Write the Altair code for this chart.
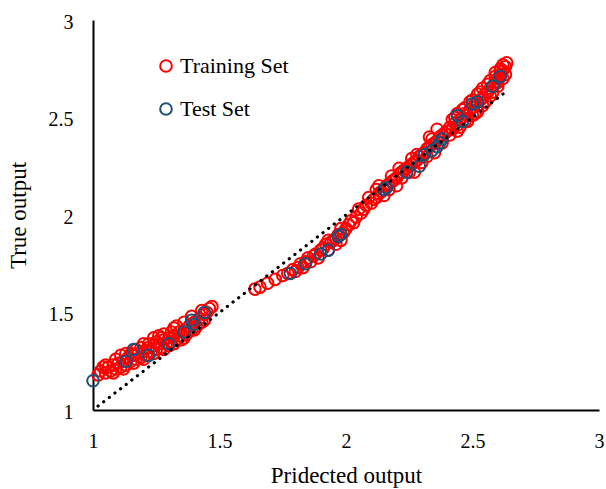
import altair as alt
import pandas as pd

train_x = [1.02, 1.03, 1.05, 1.06, 1.07, 1.08, 1.09, 1.10, 1.11, 1.12, 1.13, 1.14, 1.15, 1.16, 1.17,
           1.18, 1.19, 1.20, 1.21, 1.22, 1.23, 1.24, 1.25, 1.26, 1.27, 1.28, 1.29, 1.30, 1.31, 1.32,
           1.33, 1.34, 1.35, 1.36, 1.37, 1.38, 1.39, 1.40, 1.41, 1.42, 1.43, 1.44, 1.45, 1.47, 1.46,
           1.22, 1.27, 1.31, 1.25, 1.30, 1.35, 1.11, 1.04,
           1.05, 1.09, 1.13, 1.17, 1.20, 1.24, 1.28, 1.32, 1.36, 1.39, 1.43, 1.15, 1.19, 1.26, 1.33,
           1.08, 1.12, 1.16, 1.20, 1.24, 1.28, 1.32, 1.36, 1.40, 1.44,
           1.64, 1.66, 1.69, 1.72, 1.75, 1.77, 1.79, 1.81, 1.82, 1.84, 1.85, 1.87, 1.88, 1.90, 1.91,
           1.92, 1.94, 1.95, 1.96, 1.97, 1.99, 2.00, 2.01, 2.03, 2.04, 2.06, 2.05,
           1.86, 1.89, 1.93, 1.96, 1.98, 1.83, 1.80, 1.93, 1.98, 2.02,
           2.07, 2.08, 2.10, 2.11, 2.12, 2.13, 2.14, 2.15, 2.16, 2.17, 2.18, 2.19, 2.20, 2.21, 2.22,
           2.23, 2.24, 2.25, 2.26, 2.27, 2.28, 2.29, 2.30, 2.31, 2.32, 2.33, 2.34, 2.35, 2.36, 2.37,
           2.38, 2.39, 2.15, 2.20, 2.25, 2.30, 2.12, 2.18, 2.28, 2.33, 2.36,
           2.09, 2.13, 2.17, 2.22, 2.26, 2.27, 2.32, 2.34, 2.38, 2.21, 2.35,
           2.40, 2.41, 2.42, 2.43, 2.44, 2.45, 2.46, 2.47, 2.48, 2.49, 2.50, 2.51, 2.52, 2.53, 2.54,
           2.55, 2.56, 2.57, 2.58, 2.59, 2.60, 2.61, 2.62, 2.63, 2.635, 2.62, 2.60, 2.58, 2.55, 2.52,
           2.50, 2.47, 2.45, 2.43, 2.46, 2.49, 2.53, 2.56, 2.59, 2.61,
           2.42, 2.44, 2.47, 2.50, 2.52, 2.54, 2.57, 2.59, 2.41, 2.44, 2.48, 2.51, 2.54, 2.57, 2.60,
           2.62, 2.63, 2.61]
train_y = [1.18, 1.20, 1.19, 1.22, 1.20, 1.23, 1.21, 1.24, 1.22, 1.25, 1.23, 1.27, 1.25, 1.28, 1.26,
           1.29, 1.27, 1.30, 1.28, 1.32, 1.30, 1.33, 1.31, 1.34, 1.32, 1.36, 1.34, 1.37, 1.35, 1.38,
           1.36, 1.40, 1.38, 1.41, 1.39, 1.43, 1.41, 1.45, 1.43, 1.47, 1.45, 1.49, 1.50, 1.53, 1.52,
           1.34, 1.37, 1.40, 1.35, 1.33, 1.36, 1.28, 1.22,
           1.23, 1.26, 1.29, 1.31, 1.34, 1.37, 1.39, 1.42, 1.45, 1.48, 1.51, 1.29, 1.32, 1.38, 1.43,
           1.19, 1.21, 1.24, 1.26, 1.29, 1.31, 1.34, 1.37, 1.41, 1.46,
           1.62, 1.63, 1.65, 1.67, 1.69, 1.70, 1.72, 1.73, 1.75, 1.76, 1.78, 1.79, 1.80, 1.82, 1.83,
           1.85, 1.86, 1.87, 1.88, 1.90, 1.91, 1.93, 1.95, 1.96, 1.99, 2.01, 2.03,
           1.76, 1.78, 1.82, 1.85, 1.87, 1.73, 1.71, 1.87, 1.93, 1.97,
           2.03, 2.05, 2.06, 2.08, 2.09, 2.11, 2.12, 2.13, 2.15, 2.16, 2.17, 2.18, 2.19, 2.21, 2.22,
           2.23, 2.24, 2.25, 2.26, 2.27, 2.28, 2.30, 2.31, 2.32, 2.34, 2.35, 2.36, 2.37, 2.38, 2.40,
           2.41, 2.42, 2.10, 2.15, 2.22, 2.27, 2.13, 2.20, 2.31, 2.40, 2.44,
           2.09, 2.15, 2.13, 2.19, 2.29, 2.22, 2.30, 2.39, 2.37, 2.24, 2.32,
           2.43, 2.45, 2.44, 2.47, 2.46, 2.49, 2.50, 2.52, 2.51, 2.54, 2.55, 2.57, 2.56, 2.59, 2.60,
           2.62, 2.63, 2.65, 2.66, 2.68, 2.70, 2.72, 2.74, 2.76, 2.78, 2.70, 2.66, 2.63, 2.58, 2.53,
           2.51, 2.48, 2.45, 2.50, 2.54, 2.58, 2.63, 2.67, 2.71, 2.74,
           2.49, 2.52, 2.55, 2.59, 2.62, 2.65, 2.69, 2.73, 2.41, 2.43, 2.48, 2.52, 2.56, 2.61, 2.68,
           2.77, 2.72, 2.75]

test_x = [1.00, 1.13, 1.16, 1.22, 1.30, 1.36, 1.39, 1.44, 1.40,
          1.78, 1.84, 1.90, 1.93, 1.97, 1.98,
          2.15, 2.16, 2.24, 2.29, 2.31, 2.34, 2.36, 2.37, 2.38,
          2.44, 2.46, 2.50, 2.52, 2.58, 2.61]
test_y = [1.15, 1.25, 1.31, 1.28, 1.34, 1.40, 1.46, 1.50, 1.44,
          1.70, 1.75, 1.80, 1.82, 1.89, 1.90,
          2.13, 2.14, 2.22, 2.25, 2.31, 2.33, 2.35, 2.37, 2.39,
          2.51, 2.48, 2.57, 2.58, 2.66, 2.71]

line_x = [1.02, 2.635]
line_y = [1.02, 2.635]

df = pd.DataFrame({
    "pred": train_x + test_x,
    "true": train_y + test_y,
    "Set": ["Training Set"] * len(train_x) + ["Test Set"] * len(test_x),
})
df["order"] = range(len(df))
ldf = pd.DataFrame({"pred": line_x, "true": line_y})

FONT = "Liberation Serif"

xscale = alt.Scale(domain=[1, 3], nice=False, zero=False)
yscale = alt.Scale(domain=[1, 3], nice=False, zero=False)

xaxis = alt.Axis(values=[1, 1.5, 2, 2.5, 3], format="~g", title="Pridected output",
                 grid=False, ticks=False, domainColor="black", domainWidth=2,
                 labelFont=FONT, labelFontSize=20, labelColor="black", labelPadding=21,
                 titleFont=FONT, titleFontSize=23, titleFontWeight="normal", titleColor="black",
                 titlePadding=13, labelFlush=False)
yaxis = alt.Axis(values=[1, 1.5, 2, 2.5, 3], format="~g", title="True output",
                 grid=False, ticks=False, domainColor="black", domainWidth=2,
                 labelFont=FONT, labelFontSize=20, labelColor="black", labelPadding=20,
                 labelOffset=2,
                 titleFont=FONT, titleFontSize=23, titleFontWeight="normal", titleColor="black",
                 titlePadding=18, labelFlush=False)

points = alt.Chart(df).mark_point(shape="circle", filled=False, size=135, strokeWidth=2, opacity=1).encode(
    x=alt.X("pred:Q", scale=xscale, axis=xaxis),
    y=alt.Y("true:Q", scale=yscale, axis=yaxis),
    color=alt.Color("Set:N",
                    scale=alt.Scale(domain=["Training Set", "Test Set"], range=["#FF0000", "#1F4E79"]),
                    legend=alt.Legend(title=None, orient="none", legendX=62, legendY=35,
                                      labelFont=FONT, labelFontSize=22, labelColor="black",
                                      symbolSize=135, symbolStrokeWidth=2, symbolType="circle",
                                      symbolFillColor="transparent", rowPadding=21, labelOffset=3)),
    order=alt.Order("order:Q"),
)

line = alt.Chart(ldf).mark_line(color="black", strokeWidth=3.2, strokeDash=[0.1, 7], strokeCap="round").encode(
    x=alt.X("pred:Q", scale=xscale),
    y=alt.Y("true:Q", scale=yscale),
)

chart = alt.layer(points, line).properties(
    width=506, height=390,
    autosize=alt.AutoSizeParams(type="none"),
    padding={"left": 93, "top": 20, "right": 7, "bottom": 79},
    background="white",
).configure_view(stroke=None)

chart.save("out.html", embed_options={"renderer": "svg", "actions": False})
